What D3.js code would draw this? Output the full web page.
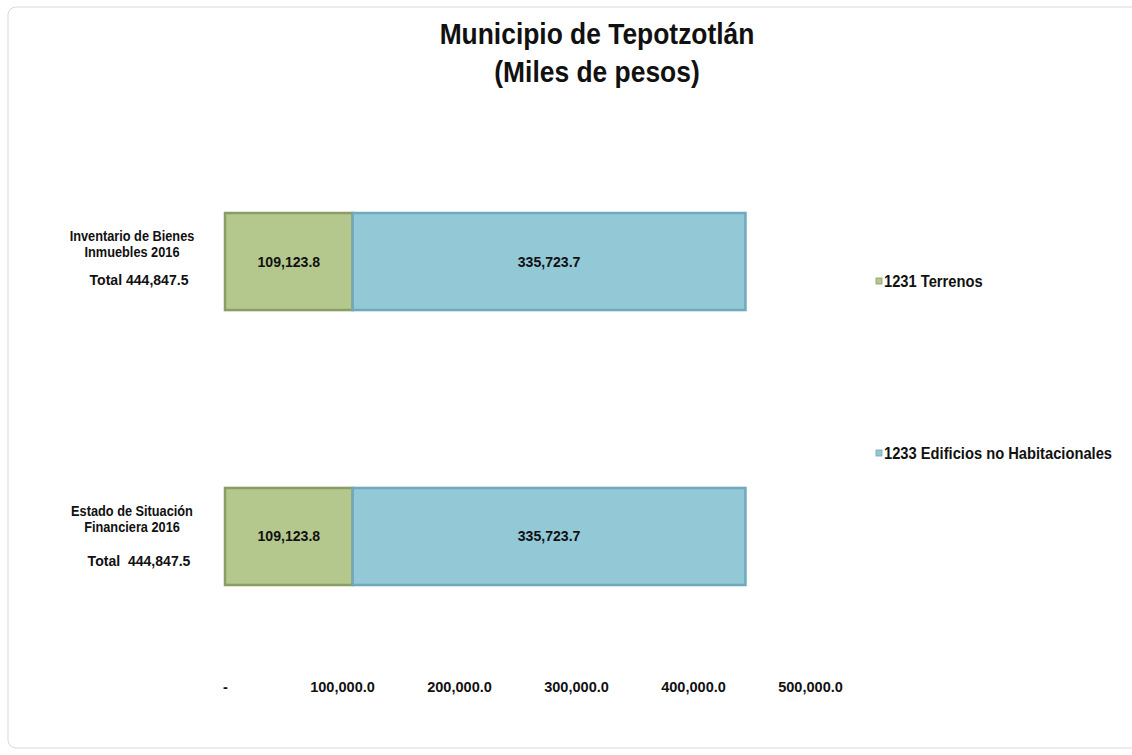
<!DOCTYPE html>
<html>
<head>
<meta charset="utf-8">
<script src="https://cdn.jsdelivr.net/npm/d3@7"></script>
<style>
  body { margin: 0; background: #fff; }
  text { font-family: "Liberation Sans Narrow", "Arial Narrow", "Liberation Sans", Arial, sans-serif; font-weight: bold; fill: #111; white-space: pre; }
</style>
</head>
<body>
<svg id="chart" width="1132" height="755"></svg>
<script>
// data
var categories = ["Inventario de Bienes Inmuebles 2016", "Estado de Situación Financiera 2016"];
var categoryLines = [
  ["Inventario de Bienes", "Inmuebles 2016"],
  ["Estado de Situación", "Financiera 2016"]
];
var totalLabels = ["Total 444,847.5", "Total  444,847.5"];
var terrenos = [109123.8, 109123.8];
var edificios = [335723.7, 335723.7];
var seriesNames = ["1231 Terrenos", "1233 Edificios no Habitacionales"];
var tickValues = [0, 100000, 200000, 300000, 400000, 500000];
var tickLabels = ["-", "100,000.0", "200,000.0", "300,000.0", "400,000.0", "500,000.0"];

var colors = ["#b4c78d", "#93c8d7"];
var strokes = ["#8a9d64", "#6fa9ba"];

var svg = d3.select("#chart");

// draw horizontally squeezed text at (px, py)
function ntext(parent, px, py, str, size, sx, anchor) {
  return parent.append("text")
    .attr("transform", "translate(" + px + "," + py + ") scale(" + sx + ",1)")
    .attr("text-anchor", anchor || "middle")
    .attr("xml:space", "preserve")
    .style("font-size", size + "px")
    .text(str);
}

// outer frame
svg.append("rect")
  .attr("x", 8).attr("y", 7)
  .attr("width", 1140).attr("height", 741)
  .attr("rx", 8)
  .attr("fill", "#fff")
  .attr("stroke", "#d9d9d9");

// title
ntext(svg, 597, 44, "Municipio de Tepotzotlán", 30, 0.88);
ntext(svg, 597, 82, "(Miles de pesos)", 30, 0.88);

var x = d3.scaleLinear().domain([0, 500000]).range([225, 810]);
var y = d3.scaleBand().domain(categories).range([213, 585]).paddingInner(0.647).paddingOuter(0);

var segs = [];
categories.forEach(function (c, i) {
  segs.push({ cat: c, s: 0, x0: 0, x1: terrenos[i], v: terrenos[i] });
  segs.push({ cat: c, s: 1, x0: terrenos[i], x1: terrenos[i] + edificios[i], v: edificios[i] });
});

var fmt = d3.format(",.1f");

svg.append("g").selectAll("rect")
  .data(segs).enter().append("rect")
  .attr("x", function (d) { return x(d.x0); })
  .attr("y", function (d) { return y(d.cat); })
  .attr("width", function (d) { return x(d.x1) - x(d.x0); })
  .attr("height", y.bandwidth())
  .attr("fill", function (d) { return colors[d.s]; })
  .attr("stroke", function (d) { return strokes[d.s]; })
  .attr("stroke-width", 2.5);

var valG = svg.append("g");
segs.forEach(function (d) {
  ntext(valG, (x(d.x0) + x(d.x1)) / 2, y(d.cat) + y.bandwidth() / 2 + 5, fmt(d.v), 15, 0.94);
});

// category labels
var totalOffset = [72, 78];
var catG = svg.append("g");
categories.forEach(function (c, i) {
  var top = y(c);
  categoryLines[i].forEach(function (line, j) {
    ntext(catG, 132, top + 28 + j * 16, line, 14.5, 0.88);
  });
  ntext(catG, 139, top + totalOffset[i], totalLabels[i], 14.5, 0.97);
});

// x axis labels
var axis = d3.axisBottom(x).tickValues(tickValues)
  .tickFormat(function (d, i) { return tickLabels[i]; })
  .tickSize(0).tickPadding(0);
var ax = svg.append("g").attr("transform", "translate(0,692)").call(axis);
ax.select(".domain").remove();
ax.selectAll("text")
  .attr("y", 0).attr("dy", null).attr("x", 0)
  .attr("transform", "scale(0.97,1)")
  .style("font-size", "15px")
  .attr("font-family", null).attr("fill", "#111");

// legend
var legendY = [281, 453];
var lg = svg.append("g").selectAll("g")
  .data(seriesNames).enter().append("g")
  .attr("transform", function (d, i) { return "translate(876," + legendY[i] + ")"; });
lg.append("rect").attr("x", 0).attr("y", -3).attr("width", 6).attr("height", 6)
  .attr("fill", function (d, i) { return colors[i]; })
  .attr("stroke", function (d, i) { return strokes[i]; }).attr("stroke-width", 0.8);
lg.each(function (d) {
  ntext(d3.select(this), 8, 6, d, 16, 0.92, "start");
});
</script>
</body>
</html>
